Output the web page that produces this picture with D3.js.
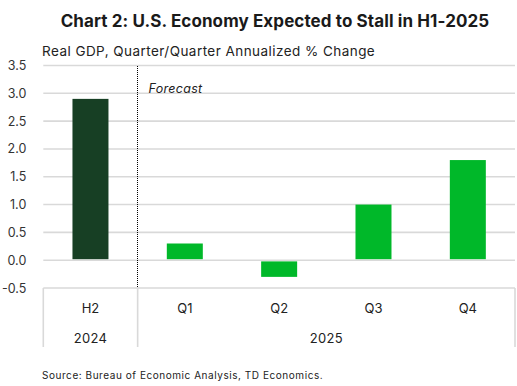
<!DOCTYPE html>
<html><head><meta charset="utf-8">
<script src="https://cdn.jsdelivr.net/npm/d3@7"></script>
<style>body{margin:0;background:#fff}svg{display:block}text{font-family:"Inter","Noto Sans",sans-serif}</style>
</head><body><svg id="c" width="517" height="386"></svg>
<script>
const categories = ["H2","Q1","Q2","Q3","Q4"];
const years = [{label:"2024", from:0, to:1},{label:"2025", from:1, to:5}];
const values = [2.9, 0.3, -0.3, 1.0, 1.8];
const colors = ["#173f24","#00b829","#00b829","#00b829","#00b829"];
const yTicks = [-0.5,0,0.5,1,1.5,2,2.5,3,3.5];

const svg = d3.select("#c");
const L = 43.3, R = 515, T = 65.5, B = 288;
const x = d3.scaleBand().domain(categories).range([L,R]).paddingInner(0).paddingOuter(0);
const y = d3.scaleLinear().domain([-0.5,3.5]).range([B,T]);

svg.append("text").attr("x",275).attr("y",27).attr("text-anchor","middle")
  .attr("font-size",17).attr("font-weight",700).attr("fill","#1a1a1a").attr("letter-spacing",0.1)
  .text("Chart 2: U.S. Economy Expected to Stall in H1-2025");
svg.append("text").attr("x",42).attr("y",56).attr("font-size",13.5).attr("letter-spacing",0.45).attr("fill","#222")
  .text("Real GDP, Quarter/Quarter Annualized % Change");

// gridlines
svg.append("g").selectAll("line").data(yTicks.filter(d=>d>-0.5)).join("line")
  .attr("x1",L).attr("x2",R).attr("y1",d=>y(d)).attr("y2",d=>y(d))
  .attr("stroke","#d9d9d9").attr("stroke-width",1.6);

// y axis labels
const ya = svg.append("g").attr("transform",`translate(${L-14},0)`)
  .call(d3.axisLeft(y).tickValues(yTicks).tickFormat(d3.format(".1f")).tickSize(0));
ya.select(".domain").remove();
ya.selectAll("text").attr("font-size",12.5).attr("fill","#333").attr("font-family","Inter, sans-serif")
  .text(d=>d3.format(".1f")(d).replace("−","-"));

// bars
const bw = 36;
svg.append("g").selectAll("rect").data(values).join("rect")
  .attr("x",(d,i)=>x(categories[i])+x.bandwidth()/2-bw/2)
  .attr("width",bw)
  .attr("y",d=>d>=0?y(d):y(0)+1.2)
  .attr("height",d=>d>=0?y(0)-y(d)-1:y(d)-y(0)-1.2)
  .attr("fill",(d,i)=>colors[i]);

// forecast divider
const divX = Math.floor(x("Q1"))+0.5;
svg.append("line").attr("x1",divX).attr("x2",divX).attr("y1",T).attr("y2",B)
  .attr("stroke","#000").attr("stroke-width",1).attr("stroke-dasharray","1,1")
  .attr("shape-rendering","crispEdges");
svg.append("text").attr("x",divX+11).attr("y",93).attr("font-size",12.5)
  .attr("font-style","italic").attr("letter-spacing",0.3).attr("fill","#222").text("Forecast");

// category axis
const axB = 347;
[L, x("Q1"), R].forEach(xx=>{
  svg.append("line").attr("x1",xx).attr("x2",xx).attr("y1",B).attr("y2",axB)
    .attr("stroke","#d9d9d9").attr("stroke-width",1.6);
});
svg.append("line").attr("x1",L).attr("x2",R).attr("y1",B).attr("y2",B)
  .attr("stroke","#d9d9d9").attr("stroke-width",1.6);
svg.append("g").selectAll("text").data(categories).join("text")
  .attr("x",d=>x(d)+x.bandwidth()/2).attr("y",313).attr("text-anchor","middle")
  .attr("font-size",13).attr("fill","#222").text(d=>d);
svg.append("g").selectAll("text").data(years).join("text")
  .attr("x",d=>(x(categories[d.from]) + (d.to>=categories.length?R:x(categories[d.to])))/2)
  .attr("y",343).attr("text-anchor","middle").attr("font-size",13).attr("letter-spacing",0.3).attr("fill","#222").text(d=>d.label);

svg.append("text").attr("x",42).attr("y",379).attr("font-size",10).attr("letter-spacing",0.55).attr("fill","#222")
  .text("Source: Bureau of Economic Analysis, TD Economics.");
</script></body></html>
